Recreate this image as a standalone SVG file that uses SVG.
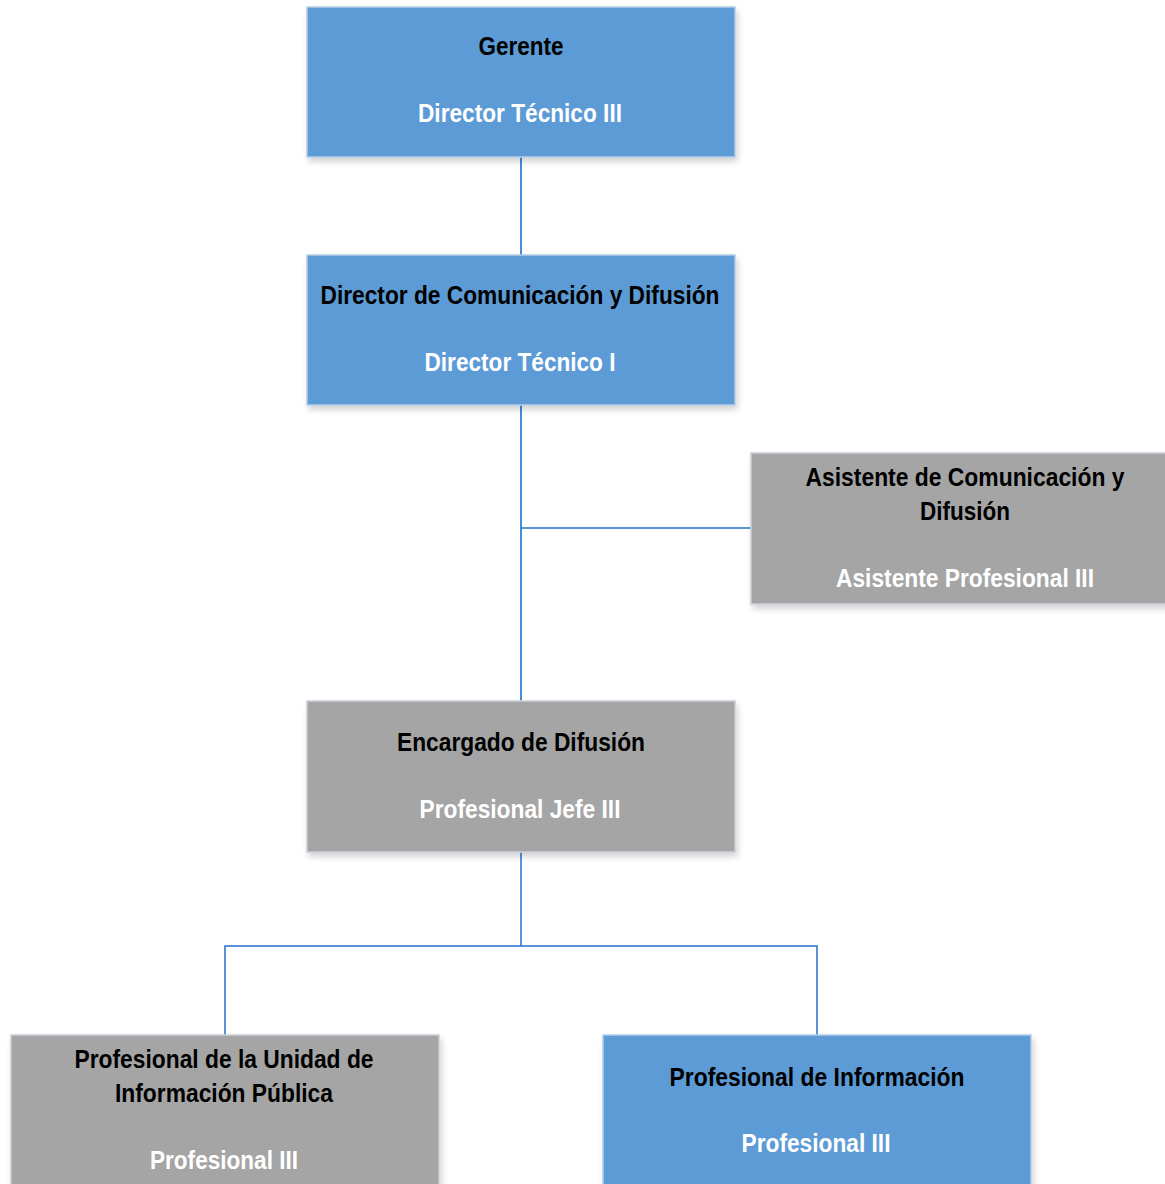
<svg xmlns="http://www.w3.org/2000/svg" width="1165" height="1184" viewBox="0 0 1165 1184">
<defs>
<filter id="sh" x="-5%" y="-5%" width="112%" height="115%">
<feGaussianBlur in="SourceAlpha" stdDeviation="3"/>
<feOffset dx="2" dy="4"/>
<feComponentTransfer><feFuncA type="linear" slope="0.18"/></feComponentTransfer>
<feMerge><feMergeNode/><feMergeNode in="SourceGraphic"/></feMerge>
</filter>
</defs>
<style>
.blue{fill:#5B9BD5;stroke:#B4CDE8;stroke-width:1.5}
.gray{fill:#A5A5A5;stroke:#C9CFD8;stroke-width:1.5}
.t{font-family:"Liberation Sans Narrow","Arial Narrow","Liberation Sans",Arial,sans-serif;font-weight:bold;font-size:25px;text-anchor:middle}
.k{fill:#000}
.w{fill:#fff}
.c{stroke:#2572CC;stroke-width:1.5;fill:none}
.cv{stroke:#4A8DD6;stroke-width:2;fill:none}
</style>
<rect width="1165" height="1184" fill="#fff"/>
<g id="connectors">
<line class="cv" x1="521" y1="157" x2="521" y2="255"/>
<line class="cv" x1="521" y1="405" x2="521" y2="701"/>
<line class="c" x1="521" y1="528" x2="751" y2="528"/>
<line class="c" x1="521" y1="852" x2="521" y2="946"/>
<polyline class="c" points="225,1035 225,946 817,946 817,1035"/>
</g>
<g id="gerente">
<rect class="blue" filter="url(#sh)" x="307" y="7" width="428" height="150"/>
<text class="t k" x="521" y="55" textLength="85" lengthAdjust="spacingAndGlyphs">Gerente</text>
<text class="t w" x="520" y="122" textLength="204" lengthAdjust="spacingAndGlyphs">Director Técnico III</text>
</g>
<g id="director">
<rect class="blue" filter="url(#sh)" x="307" y="255" width="428" height="150"/>
<text class="t k" x="520" y="304" textLength="399" lengthAdjust="spacingAndGlyphs">Director de Comunicación y Difusión</text>
<text class="t w" x="520" y="371" textLength="191" lengthAdjust="spacingAndGlyphs">Director Técnico I</text>
</g>
<g id="asistente">
<rect class="gray" filter="url(#sh)" x="751" y="453" width="428" height="151"/>
<text class="t k" x="965" y="486" textLength="319" lengthAdjust="spacingAndGlyphs">Asistente de Comunicación y</text>
<text class="t k" x="965" y="520" textLength="90" lengthAdjust="spacingAndGlyphs">Difusión</text>
<text class="t w" x="965" y="587" textLength="258" lengthAdjust="spacingAndGlyphs">Asistente Profesional III</text>
</g>
<g id="encargado">
<rect class="gray" filter="url(#sh)" x="307" y="701" width="428" height="151"/>
<text class="t k" x="521" y="751" textLength="248" lengthAdjust="spacingAndGlyphs">Encargado de Difusión</text>
<text class="t w" x="520" y="818" textLength="201" lengthAdjust="spacingAndGlyphs">Profesional Jefe III</text>
</g>
<g id="prof-uip">
<rect class="gray" filter="url(#sh)" x="11" y="1035" width="428" height="160"/>
<text class="t k" x="224" y="1068" textLength="299" lengthAdjust="spacingAndGlyphs">Profesional de la Unidad de</text>
<text class="t k" x="224" y="1102" textLength="218" lengthAdjust="spacingAndGlyphs">Información Pública</text>
<text class="t w" x="224" y="1169" textLength="148" lengthAdjust="spacingAndGlyphs">Profesional III</text>
</g>
<g id="prof-info">
<rect class="blue" filter="url(#sh)" x="603" y="1035" width="428" height="160"/>
<text class="t k" x="817" y="1086" textLength="295" lengthAdjust="spacingAndGlyphs">Profesional de Información</text>
<text class="t w" x="816" y="1152" textLength="149" lengthAdjust="spacingAndGlyphs">Profesional III</text>
</g>
</svg>
